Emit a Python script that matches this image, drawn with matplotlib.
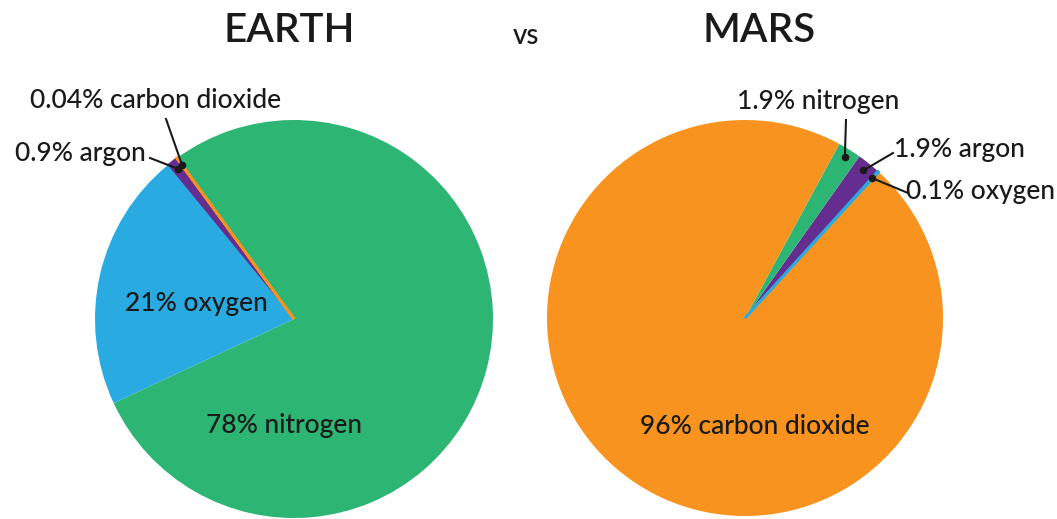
import numpy as np
import matplotlib
matplotlib.use("Agg")
import matplotlib.pyplot as plt

plt.rcParams['font.family'] = ['Lato', 'DejaVu Sans']

# Earth atmosphere (counterclockwise order as drawn)
earth_gases = ["nitrogen", "carbon dioxide", "argon", "oxygen"]
earth_pct = [78, 0.04, 0.9, 21]
earth_colors = ["#2db574", "#f7931e", "#662d91", "#29abe2"]

# Mars atmosphere
mars_gases = ["oxygen", "argon", "nitrogen", "carbon dioxide"]
mars_pct = [0.1, 1.9, 1.9, 96]
mars_colors = ["#29abe2", "#662d91", "#2db574", "#f7931e"]

W, H = 1057, 519
fig = plt.figure(figsize=(W / 100, H / 100), dpi=100)
ax = fig.add_axes([0, 0, 1, 1])

txt = "#1a1a1a"
fs = 19
earth_c, earth_r = (294, 200), 199
mars_c, mars_r = (745, 201), 198

ew, _ = ax.pie(earth_pct, colors=earth_colors, startangle=205, counterclock=True,
               center=earth_c, radius=earth_r, normalize=True,
               wedgeprops=dict(linewidth=0))
mw, _ = ax.pie(mars_pct, colors=mars_colors, startangle=47.5, counterclock=True,
               center=mars_c, radius=mars_r, normalize=True,
               wedgeprops=dict(linewidth=0))
# keep the tiny slivers visible
ew[1].set_edgecolor("#f7931e")
ew[1].set_linewidth(2.0)
ew[1].set_zorder(3)
ew[2].set_edgecolor("#662d91")
ew[2].set_linewidth(1.2)
mw[0].set_edgecolor("#29abe2")
mw[0].set_linewidth(1.8)
mw[0].set_zorder(3)

ax.set_xlim(0, W)
ax.set_ylim(0, H)
ax.set_aspect("equal")
ax.axis("off")


def callout(wedge, center, r, text, text_xy, line_start, ha="center"):
    mid = np.deg2rad((wedge.theta1 + wedge.theta2) / 2)
    px = center[0] + 0.955 * r * np.cos(mid)
    py = center[1] + 0.955 * r * np.sin(mid)
    ax.plot([line_start[0], px], [line_start[1], py], color=txt, lw=1.5, zorder=4)
    ax.plot(px, py, "o", color=txt, ms=4.5, zorder=4)
    ax.text(text_xy[0], text_xy[1], text, ha=ha, va="center", fontsize=fs,
            color=txt, fontweight="medium")


def label(x, y, text):
    ax.text(x, y, text, ha="center", va="center", fontsize=fs, color=txt,
            fontweight="medium")


# Earth callouts (figure pixel coords, y measured from bottom)
callout(ew[1], earth_c, earth_r, "0.04% carbon dioxide", (156, H - 101), (166, H - 119))
callout(ew[2], earth_c, earth_r, "0.9% argon", (80, H - 154), (150, H - 158))
label(196, H - 304, "21% oxygen")
label(284, H - 426, "78% nitrogen")

# Mars callouts
callout(mw[2], mars_c, mars_r, "1.9% nitrogen", (818, H - 102), (846, H - 120))
callout(mw[1], mars_c, mars_r, "1.9% argon", (959, H - 150), (893, H - 153))
callout(mw[0], mars_c, mars_r, "0.1% oxygen", (981, H - 191), (908, H - 193))
label(755, H - 426, "96% carbon dioxide")

# titles
ax.text(289, H - 31, "EARTH", ha="center", va="center", fontsize=29, color=txt,
        fontweight="semibold")
ax.text(526, H - 36, "vs", ha="center", va="center", fontsize=20, color=txt,
        fontweight="medium")
ax.text(759, H - 31, "MARS", ha="center", va="center", fontsize=29, color=txt,
        fontweight="semibold")

fig.savefig("out.png", dpi=100, facecolor="white")
